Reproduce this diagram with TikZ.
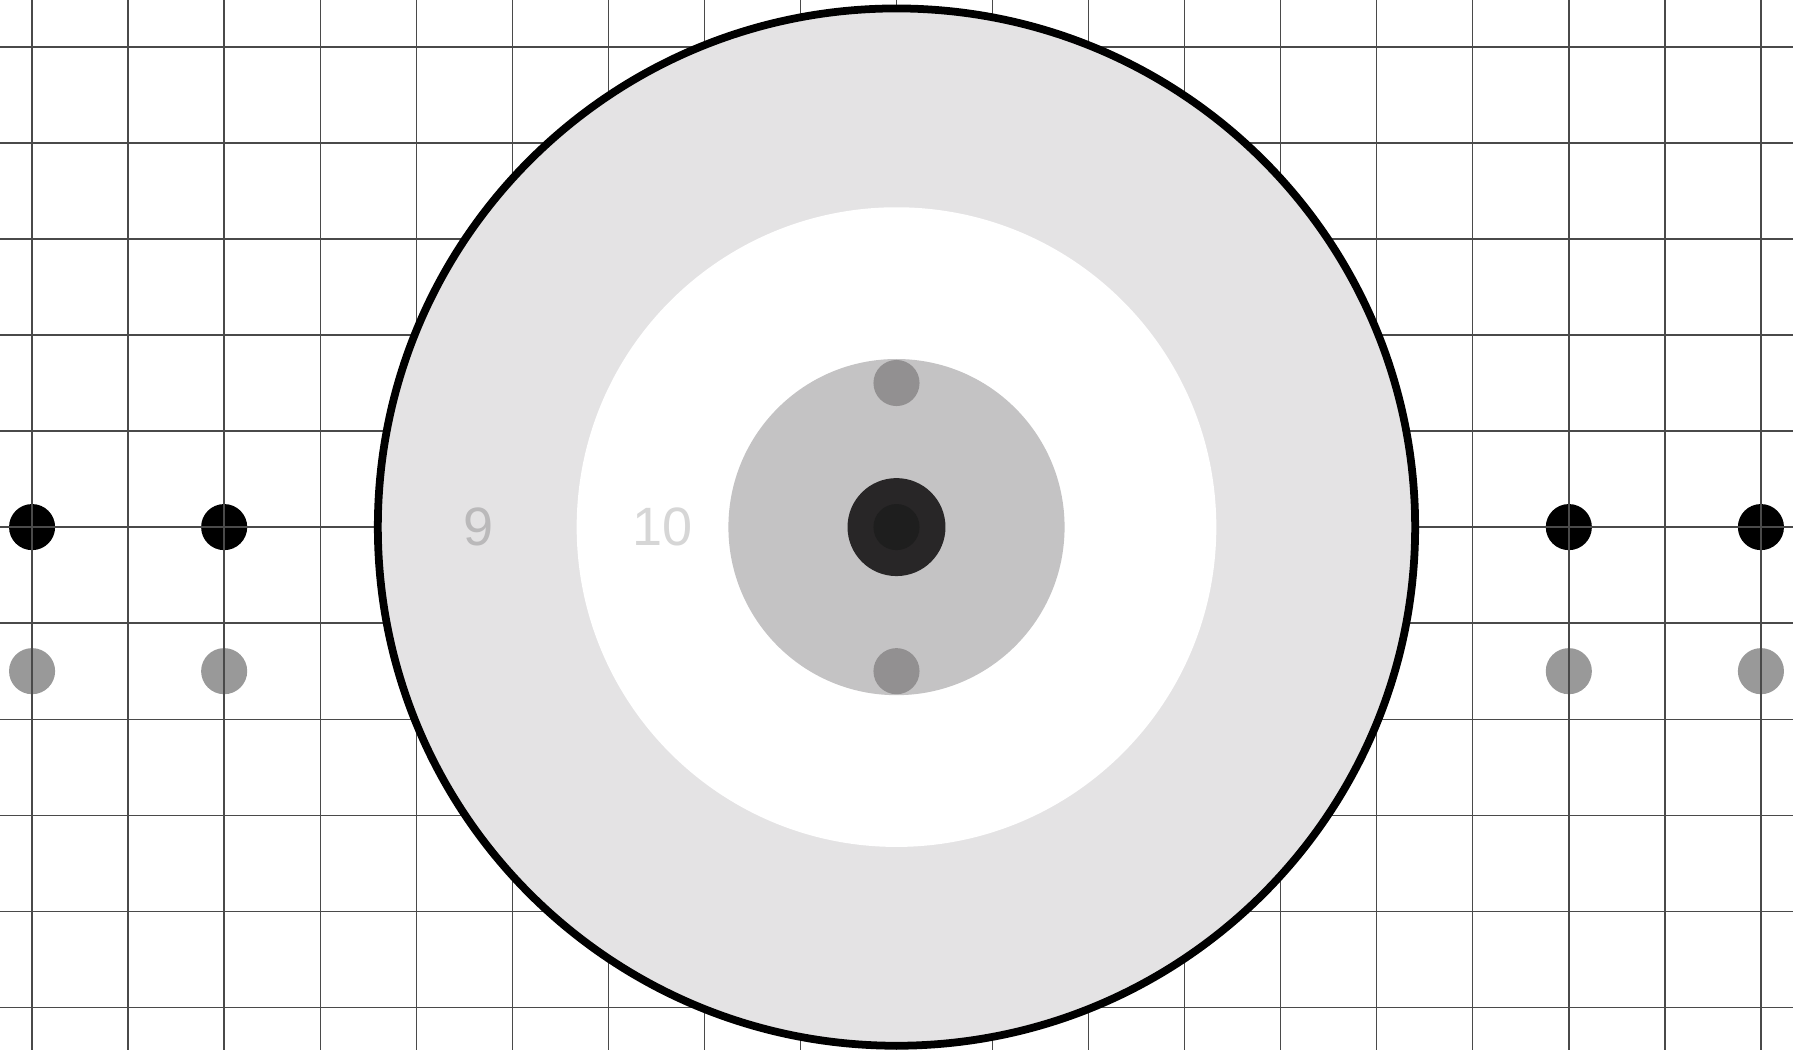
\documentclass[tikz,border=0pt]{standalone}
\usepackage{fontspec}
\setmainfont{Liberation Sans}
\definecolor{gridgray}{HTML}{4A4A4A}
\definecolor{ringnine}{HTML}{E4E3E4}
\definecolor{ringinner}{HTML}{C4C3C4}
\definecolor{pindot}{HTML}{929091}
\definecolor{bullouter}{HTML}{282627}
\definecolor{bullinner}{HTML}{1E1E1E}
\definecolor{sparedot}{HTML}{999999}
\begin{document}
\begin{tikzpicture}[
    gridline/.style={draw=gridgray, line width=0.4pt},
    ringlabel/.style={font=\fontsize{16}{16}\selectfont, inner sep=0pt},
    dotmark/.style={circle, inner sep=0pt, minimum size=0.48cm},
]
\useasboundingbox (-9.334,-5.444) rectangle (9.334,5.488);

% ---------- Side markers (under the grid) ----------
\foreach \x/\name in {-9/a, -7/b, 7/c, 9/d} {
    \node[dotmark, fill=black]     (mark\name)  at (\x, 0)    {};
    \node[dotmark, fill=sparedot]  (spare\name) at (\x, -1.5) {};
}

% ---------- Background grid ----------
\draw[gridline, step=1cm] (-9.334,-5.444) grid (9.334,5.488);

% ---------- Target rings ----------
\filldraw[fill=ringnine, draw=black, line width=2.3pt] (0,0) circle (5.40);
\fill[white]     (0,0) circle (3.33);
\fill[ringinner] (0,0) circle (1.75);

% ---------- Ring labels ----------
\node[ringlabel, text=ringinner!95!black] (nine) at (-4.354, 0) {9};
\node[ringlabel, text=black!16]           (ten)  at (-2.436, 0) {10};

% ---------- Bull ----------
\node[dotmark, fill=bullouter, minimum size=1.02cm] (bull) at (0,0) {};
\node[dotmark, fill=bullinner] (bullcore) at (bull.center) {};
\node[dotmark, fill=pindot] (pintop) at (0, 1.5) {};
\node[dotmark, fill=pindot] (pinbot) at (0,-1.5) {};

\end{tikzpicture}
\end{document}
